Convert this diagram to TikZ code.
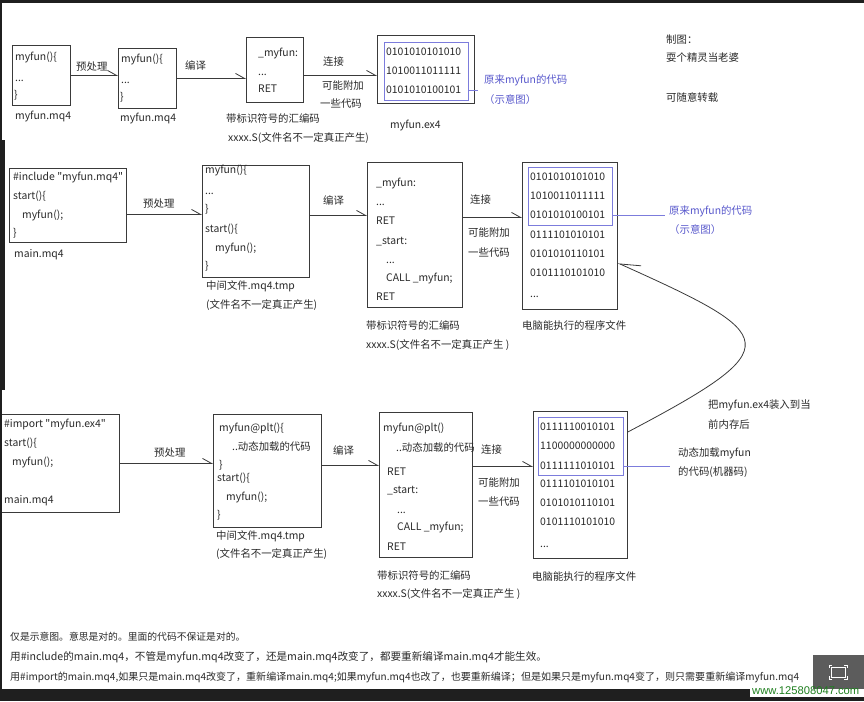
\documentclass[tikz,border=0pt]{standalone}
\usepackage{fontspec}
\setmainfont{Noto Sans CJK SC}[Ligatures=TeXOff]
\newfontfamily\wmfont{Liberation Sans}
\usetikzlibrary{arrows.meta,calc}
\definecolor{ink}{HTML}{2A2A2A}
\definecolor{boxline}{HTML}{3A3A3A}
\definecolor{bluel}{HTML}{7C7CDC}
\definecolor{bluet}{HTML}{5858CC}
\definecolor{wmgreen}{HTML}{1F7F1F}
\definecolor{shot}{HTML}{5C5C5C}
\begin{document}
\begin{tikzpicture}[x=1pt,y=-1pt,
  txt/.style={anchor=west, inner sep=0pt, text height=0.8em, text depth=0.05em,
    font=\fontsize{10.4}{12}\selectfont, text=ink},
  btxt/.style={txt, text=bluet},
  box/.style={draw=boxline, line width=0.8pt, inner sep=0pt, anchor=north west},
  ibox/.style={draw=bluel, line width=0.8pt, inner sep=0pt, anchor=north west},
  arr/.style={draw=boxline, line width=0.8pt, -{Straight Barb[left,length=9pt,width=10pt]}},
  curvearr/.style={draw=boxline, line width=0.8pt, -{Straight Barb[right,length=20pt,width=14pt]}},
  bline/.style={draw=bluel, line width=0.9pt}]
\useasboundingbox (0,0) rectangle (864,701);
\clip (0,0) rectangle (864,701);
\fill[white] (0,0) rectangle (864,701);

% ---------------- Row 1 ----------------
\node[box, minimum width=58pt, minimum height=60pt] (a1) at (12,45) {};
\node[txt] (a1t1) at (15,57) {myfun()\{};
\node[txt] (a1t2) at (15,78) {...};
\node[txt] (a1t3) at (14,95) {\}};
\node[txt] (a1l) at (15,116) {myfun.mq4};

\node[box, minimum width=58pt, minimum height=60pt] (a2) at (118,48) {};
\node[txt] (a2t1) at (121,59) {myfun()\{};
\node[txt] (a2t2) at (121,80) {...};
\node[txt] (a2t3) at (120,97) {\}};
\node[txt] (a2l) at (120,118) {myfun.mq4};
\draw[arr] (a1.east) -- (a1.east -| a2.west);
\node[txt] (a12) at (76,67) {预处理};

\node[box, minimum width=57pt, minimum height=65pt] (a3) at (246,37) {};
\node[txt] (a3t1) at (258,53) {\_myfun:};
\node[txt] (a3t2) at (258,72) {...};
\node[txt] (a3t3) at (258,89) {RET};
\node[txt] (a3l1) at (226,119) {带标识符号的汇编码};
\node[txt] (a3l2) at (228,138) {xxxx.S(文件名不一定真正产生)};
\draw[arr] (a2.east) -- (a2.east -| a3.west);
\node[txt] (a23) at (185,66) {编译};

\node[box, minimum width=97pt, minimum height=68pt] (a4) at (377,35) {};
\node[ibox, minimum width=84pt, minimum height=58pt] (a4i) at (384,42) {};
\node[txt] (a4t1) at (386,52) {0101010101010};
\node[txt] (a4t2) at (386,71) {1010011011111};
\node[txt] (a4t3) at (386,90) {0101010100101};
\node[txt] (a4l) at (390,125) {myfun.ex4};
\coordinate (p1) at ([yshift=-5.5pt]a3.east);
\draw[arr] (p1) -- (p1 -| a4.west);
\node[txt] (a34a) at (323,62) {连接};
\node[txt] (a34b) at (322,86) {可能附加};
\node[txt] (a34c) at (320,104) {一些代码};
\coordinate (ea) at (478,90);
\draw[bline] (a4i.east |- a4t3) -- (ea |- a4t3);
\node[btxt] (a4b1) at (484,80) {原来myfun的代码};
\node[btxt] (a4b2) at (484,100) {（示意图）};

\node[txt] (r1) at (666,40) {制图：};
\node[txt] (r2) at (666,58) {耍个精灵当老婆};
\node[txt] (r3) at (666,98) {可随意转载};

% ---------------- Row 2 ----------------
\node[box, minimum width=117pt, minimum height=74pt] (b1) at (9,168) {};
\node[txt] (b1t1) at (13,177) {\#include "myfun.mq4"};
\node[txt] (b1t2) at (13,196) {start()\{};
\node[txt] (b1t3) at (22,215) {myfun();};
\node[txt] (b1t4) at (13,233) {\}};
\node[txt] (b1l) at (14,254) {main.mq4};

\node[box, minimum width=107pt, minimum height=112pt] (b2) at (202,165) {};
\node[txt] (b2t1) at (205,170) {myfun()\{};
\node[txt] (b2t2) at (205,191) {...};
\node[txt] (b2t3) at (205,209) {\}};
\node[txt] (b2t4) at (205,229) {start()\{};
\node[txt] (b2t5) at (215,248) {myfun();};
\node[txt] (b2t6) at (205,266) {\}};
\node[txt] (b2l1) at (206,286) {中间文件.mq4.tmp};
\node[txt] (b2l2) at (206,305) {(文件名不一定真正产生)};
\coordinate (p2) at ([yshift=-9pt]b1.east);
\draw[arr] (p2) -- (p2 -| b2.west);
\node[txt] (b12) at (143,204) {预处理};

\node[box, minimum width=95pt, minimum height=145pt] (b3) at (367,162) {};
\node[txt] (b3t1) at (376,183) {\_myfun:};
\node[txt] (b3t2) at (376,202) {...};
\node[txt] (b3t3) at (376,221) {RET};
\node[txt] (b3t4) at (376,241) {\_start:};
\node[txt] (b3t5) at (386,260) {...};
\node[txt] (b3t6) at (386,278) {CALL \_myfun;};
\node[txt] (b3t7) at (376,297) {RET};
\node[txt] (b3l1) at (366,326) {带标识符号的汇编码};
\node[txt] (b3l2) at (366,345) {xxxx.S(文件名不一定真正产生 )};
\coordinate (p3) at ([yshift=6pt]b2.east);
\draw[arr] (p3) -- (p3 -| b3.west);
\node[txt] (b23) at (323,201) {编译};

\node[box, minimum width=95pt, minimum height=147pt] (b4) at (522,162) {};
\node[ibox, minimum width=84pt, minimum height=58pt] (b4i) at (528,167) {};
\node[txt] (b4t1) at (530,177) {0101010101010};
\node[txt] (b4t2) at (530,196) {1010011011111};
\node[txt] (b4t3) at (530,215) {0101010100101};
\node[txt] (b4t4) at (530,235) {0111101010101};
\node[txt] (b4t5) at (530,254) {0101010110101};
\node[txt] (b4t6) at (530,273) {0101110101010};
\node[txt] (b4t7) at (530,294) {...};
\node[txt] (b4l) at (522,326) {电脑能执行的程序文件};
\coordinate (p4) at ([yshift=17.5pt]b3.east);
\draw[arr] (p4) -- (p4 -| b4.west);
\node[txt] (b34a) at (470,200) {连接};
\node[txt] (b34b) at (468,233) {可能附加};
\node[txt] (b34c) at (468,253) {一些代码};
\coordinate (eb) at (665,215);
\draw[bline] (b4i.east |- b4t3) -- (eb |- b4t3);
\node[btxt] (b4b1) at (669,211) {原来myfun的代码};
\node[btxt] (b4b2) at (669,230) {（示意图）};

% ---------------- Row 3 ----------------
\node[box, minimum width=120pt, minimum height=98pt] (c1) at (-1,414) {};
\node[txt] (c1t1) at (4,424) {\#import "myfun.ex4"};
\node[txt] (c1t2) at (4,443) {start()\{};
\node[txt] (c1t3) at (12,462) {myfun();};
\node[txt] (c1t4) at (4,500) {main.mq4};

\node[box, minimum width=108pt, minimum height=113pt] (c2) at (213,414) {};
\node[txt] (c2t1) at (219,428) {myfun@plt()\{};
\node[txt] (c2t2) at (232,447) {..动态加载的代码};
\node[txt] (c2t3) at (219,465) {\}};
\node[txt] (c2t4) at (217,478) {start()\{};
\node[txt] (c2t5) at (226,497) {myfun();};
\node[txt] (c2t6) at (217,515) {\}};
\node[txt] (c2l1) at (216,536) {中间文件.mq4.tmp};
\node[txt] (c2l2) at (216,554) {(文件名不一定真正产生)};
\draw[arr] (c1.east) -- (c1.east -| c2.west);
\node[txt] (c12) at (154,453) {预处理};

\node[box, minimum width=93pt, minimum height=145pt] (c3) at (379,412) {};
\node[txt] (c3t1) at (383,428) {myfun@plt()};
\node[txt] (c3t2) at (396,448) {..动态加载的代码};
\node[txt] (c3t3) at (387,472) {RET};
\node[txt] (c3t4) at (387,490) {\_start:};
\node[txt] (c3t5) at (397,510) {...};
\node[txt] (c3t6) at (397,527) {CALL \_myfun;};
\node[txt] (c3t7) at (387,547) {RET};
\node[txt] (c3l1) at (377,576) {带标识符号的汇编码};
\node[txt] (c3l2) at (377,594) {xxxx.S(文件名不一定真正产生 )};
\coordinate (p5) at ([yshift=5.5pt]c2.east);
\draw[arr] (p5) -- (p5 -| c3.west);
\node[txt] (c23) at (333,451) {编译};

\node[box, minimum width=94pt, minimum height=147pt] (c4) at (533,411) {};
\node[ibox, minimum width=85pt, minimum height=58pt] (c4i) at (538,417) {};
\node[txt] (c4t1) at (540,427) {0111110010101};
\node[txt] (c4t2) at (540,446) {1100000000000};
\node[txt] (c4t3) at (540,466) {0111111010101};
\node[txt] (c4t4) at (540,484) {0111101010101};
\node[txt] (c4t5) at (540,503) {0101010110101};
\node[txt] (c4t6) at (540,522) {0101110101010};
\node[txt] (c4t7) at (540,544) {...};
\node[txt] (c4l) at (532,577) {电脑能执行的程序文件};
\coordinate (p6) at ([yshift=18.5pt]c3.east);
\draw[arr] (p6) -- (p6 -| c4.west);
\node[txt] (c34a) at (481,450) {连接};
\node[txt] (c34b) at (478,483) {可能附加};
\node[txt] (c34c) at (478,502) {一些代码};
\coordinate (ec) at (670,465);
\draw[bline] (c4i.east |- c4t3) -- (ec |- c4t3);
\node[txt] (c4b1) at (678,453) {动态加载myfun};
\node[txt] (c4b2) at (678,472) {的代码(机器码)};

% curved load arrow
\draw[curvearr] ([yshift=-21pt]c4.north east) .. controls (791,346) and (780,336) .. ([yshift=-101pt]b4.north east);
\node[txt] (ld1) at (708,405) {把myfun.ex4装入到当};
\node[txt] (ld2) at (708,425) {前内存后};

% ---------------- Notes ----------------
\node[txt, font=\fontsize{9.8}{12}\selectfont] (n1) at (10,637) {仅是示意图。意思是对的。里面的代码不保证是对的。};
\node[txt, font=\fontsize{10.6}{12}\selectfont] (n2) at (10,657) {用\#include的main.mq4，不管是myfun.mq4改变了，还是main.mq4改变了，都要重新编译main.mq4才能生效。};
\node[txt, font=\fontsize{10.03}{12}\selectfont] (n3) at (10,677) {用\#import的main.mq4,如果只是main.mq4改变了，重新编译main.mq4;如果myfun.mq4也改了，也要重新编译；但是如果只是myfun.mq4变了，则只需要重新编译myfun.mq4};

% ---------------- screenshot frame ----------------
\fill[shot] (813,655) rectangle (864,689);
\draw[white, line width=1pt] (831,667) rectangle (845,677);
\draw[white, line width=1pt] (829,668) -- (829,665) -- (832,665) (844,665) -- (847,665) -- (847,668)
  (829,676) -- (829,679) -- (832,679) (844,679) -- (847,679) -- (847,676);
\node[anchor=west, inner sep=0pt, font=\wmfont\fontsize{11.2}{12}\selectfont, text=wmgreen] (wm) at (752,691) {www.125808047.com};
\fill[black!88] (0,0) rectangle (864,3);
\fill[black!88] (0,0) rectangle (2,140);
\fill[black!88] (0,140) rectangle (5,390);
\fill[black!88] (0,390) rectangle (2,701);
\fill[black!88] (0,689) rectangle (750,701);
\fill[black!88] (750,697) rectangle (864,701);
\end{tikzpicture}
\end{document}
